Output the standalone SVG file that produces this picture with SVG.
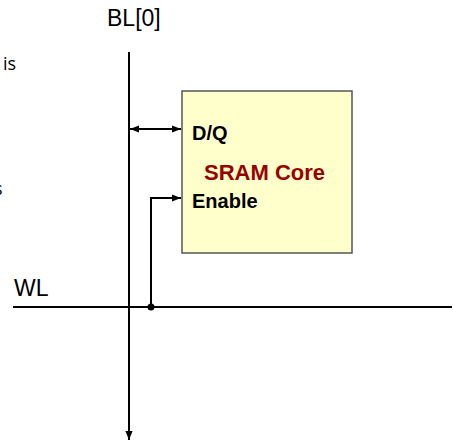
<svg xmlns="http://www.w3.org/2000/svg" width="453" height="446" viewBox="0 0 453 446">
<style>
.w{stroke:#000;stroke-width:2;fill:none}
.lbl{font-family:"Liberation Sans",Arial,sans-serif;font-size:23px;fill:#000}
.pin{font-family:"Liberation Sans",Arial,sans-serif;font-size:20px;font-weight:bold;fill:#000}
.side{font-family:"Open Sans",sans-serif;font-size:18px;fill:#000}
</style>
<defs>
<marker id="ahb" viewBox="0 0 10 10" refX="10" refY="5" markerWidth="9" markerHeight="9" orient="auto-start-reverse" markerUnits="userSpaceOnUse"><path d="M0,1 L10,5 L0,9 z" fill="#000"/></marker>
</defs>
<text class="side" x="3" y="70">is</text>
<text class="side" x="2.5" y="195" text-anchor="end">s</text>
<text class="lbl" x="107" y="26">BL[0]</text>
<text class="lbl" x="14" y="296">WL</text>
<g id="sram-core">
<rect x="182" y="91" width="170" height="162" fill="#FFFFCC" stroke="#555" stroke-width="1.5"/>
<text class="pin" x="192" y="140">D/Q</text>
<text x="204" y="180" font-family="Liberation Sans,Arial,sans-serif" font-size="22" font-weight="bold" fill="#990000">SRAM Core</text>
<text class="pin" x="192" y="208">Enable</text>
</g>
<g id="connectors">
<line class="w" x1="129" y1="52" x2="129" y2="440" marker-end="url(#ahb)"/>
<line class="w" x1="13" y1="307" x2="452" y2="307"/>
<line x1="130" y1="129" x2="181" y2="129" stroke="#000" stroke-width="2" marker-start="url(#ahb)" marker-end="url(#ahb)"/>
<polyline class="w" points="151,307 151,198 181,198" marker-end="url(#ahb)"/>
<circle cx="151" cy="307" r="3.5" fill="#000"/>
</g>
</svg>
